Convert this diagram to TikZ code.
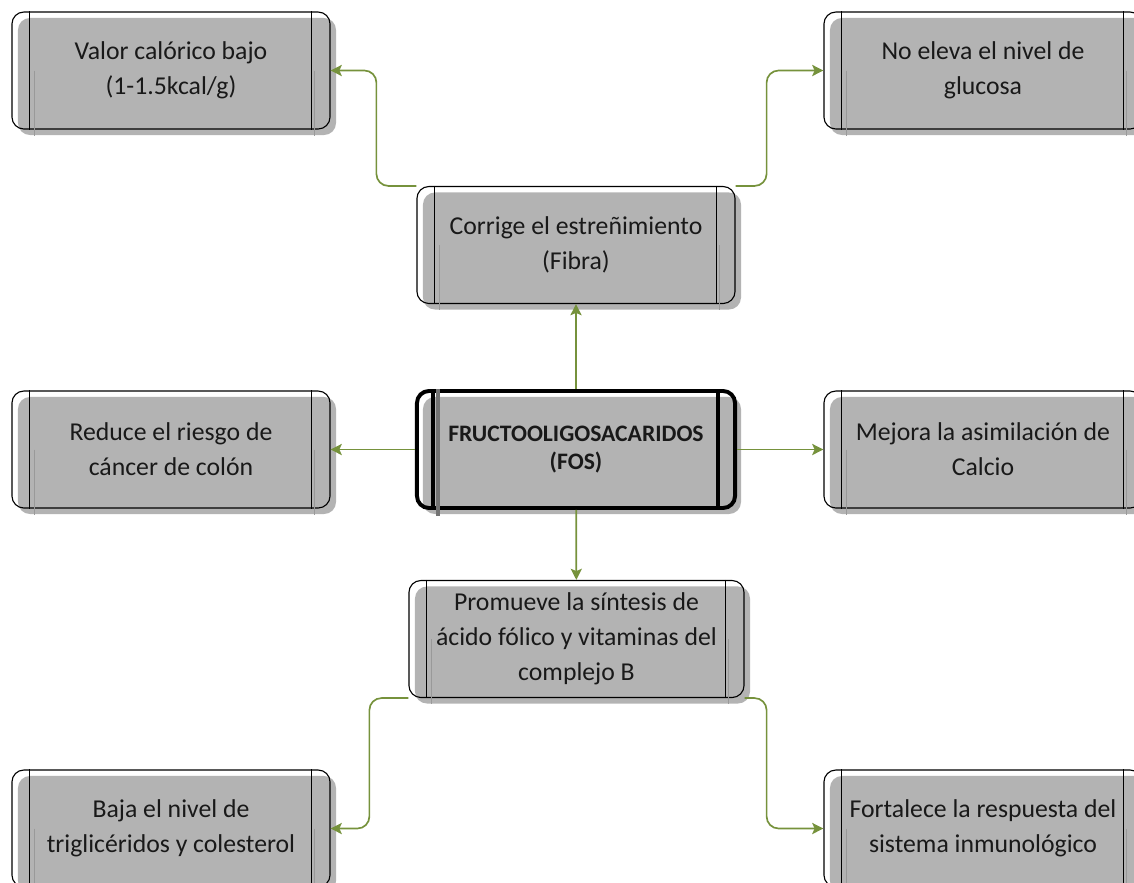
\documentclass[tikz,border=0pt]{standalone}
\usepackage{fontspec}
\setmainfont{Carlito}
\usetikzlibrary{shadows,arrows.meta}
\definecolor{boxgray}{RGB}{179,179,179}
\definecolor{linegreen}{RGB}{118,146,60}
\tikzstyle{bx}=[rectangle,rounded corners=.3cm,draw=black,line width=.8pt,minimum width=7.95cm,minimum height=2.925cm,align=center,text=black!90,font=\fontsize{18.3}{25}\selectfont,drop shadow={shadow xshift=.15cm,shadow yshift=-.15cm,fill=boxgray,opacity=1}]
\tikzstyle{fos}=[bx,line width=2.8pt,font=\bfseries\fontsize{16.8}{20.5}\selectfont]
\tikzstyle{vl}=[draw=black,line width=.8pt]
\tikzstyle{shl}=[draw=black!40,line width=.8pt]
\tikzstyle{conn}=[draw=linegreen,line width=1.2pt,rounded corners=.3cm,-{Stealth[length=.28cm,width=.28cm,inset=.06cm]}]

\begin{document}
\begin{tikzpicture}[x=0.025cm,y=-0.025cm]
\useasboundingbox (0,0) rectangle (1134,883);
\clip (0,0) rectangle (1134,883);
\node[bx] (val) at (171,70.5) {Valor calórico bajo\\(1-1.5kcal/g)};
\node[bx] (noe) at (983,70.5) {No eleva el nivel de\\glucosa};
\node[bx] (cor) at (576,245) {Corrige el estreñimiento\\(Fibra)};
\node[fos] (fos) at (576,449.5) {FRUCTOOLIGOSACARIDOS\\(FOS)};
\node[bx] (red) at (171,449.5) {Reduce el riesgo de\\cáncer de colón};
\node[bx] (mej) at (983,449.5) {Mejora la asimilación de\\Calcio};
\node[bx,minimum width=8.375cm] (pro) at (576.5,639) {Promueve la síntesis de\\ácido fólico y vitaminas del\\complejo B};
\node[bx] (baj) at (171,828.5) {Baja el nivel de\\triglicéridos y colesterol};
\node[bx] (for) at (983,828.5) {Fortalece la respuesta del\\sistema inmunológico};
% inner bars
\foreach \n in {val,noe,cor,red,mej,pro,baj,for}{
  \draw[shl] ([xshift=.575cm]\n.west) -- ([xshift=.575cm,yshift=-.15cm]\n.south west);
  \draw[shl] ([xshift=-.4cm]\n.east) -- ([xshift=-.4cm,yshift=-.15cm]\n.south east);
  \draw[vl] ([xshift=.45cm]\n.north west) -- ([xshift=.45cm]\n.south west);
  \draw[vl] ([xshift=-.475cm]\n.north east) -- ([xshift=-.475cm]\n.south east);
}
\draw[shl,line width=2.8pt,draw=black!55] ([xshift=.58cm]fos.north west) -- ([xshift=.58cm,yshift=-.15cm]fos.south west);
\draw[vl,line width=2.8pt] ([xshift=.45cm]fos.north west) -- ([xshift=.45cm]fos.south west);
\draw[vl,line width=2.8pt] ([xshift=-.475cm]fos.north east) -- ([xshift=-.475cm]fos.south east);
% connectors
\draw[conn] (fos) -- (cor);
\draw[conn] (fos) -- (red);
\draw[conn] (fos) -- (mej);
\draw[conn] (fos) -- (pro);
\draw[conn] (cor.north west) -- ++(-40,0) |- (val);
\draw[conn] (cor.north east) -- ++(31,0) |- (noe);
\draw[conn] (pro.south west) -- ++(-39,0) |- (baj);
\draw[conn] (pro.south east) -- ++(22,0) |- (for);
\end{tikzpicture}
\end{document}
